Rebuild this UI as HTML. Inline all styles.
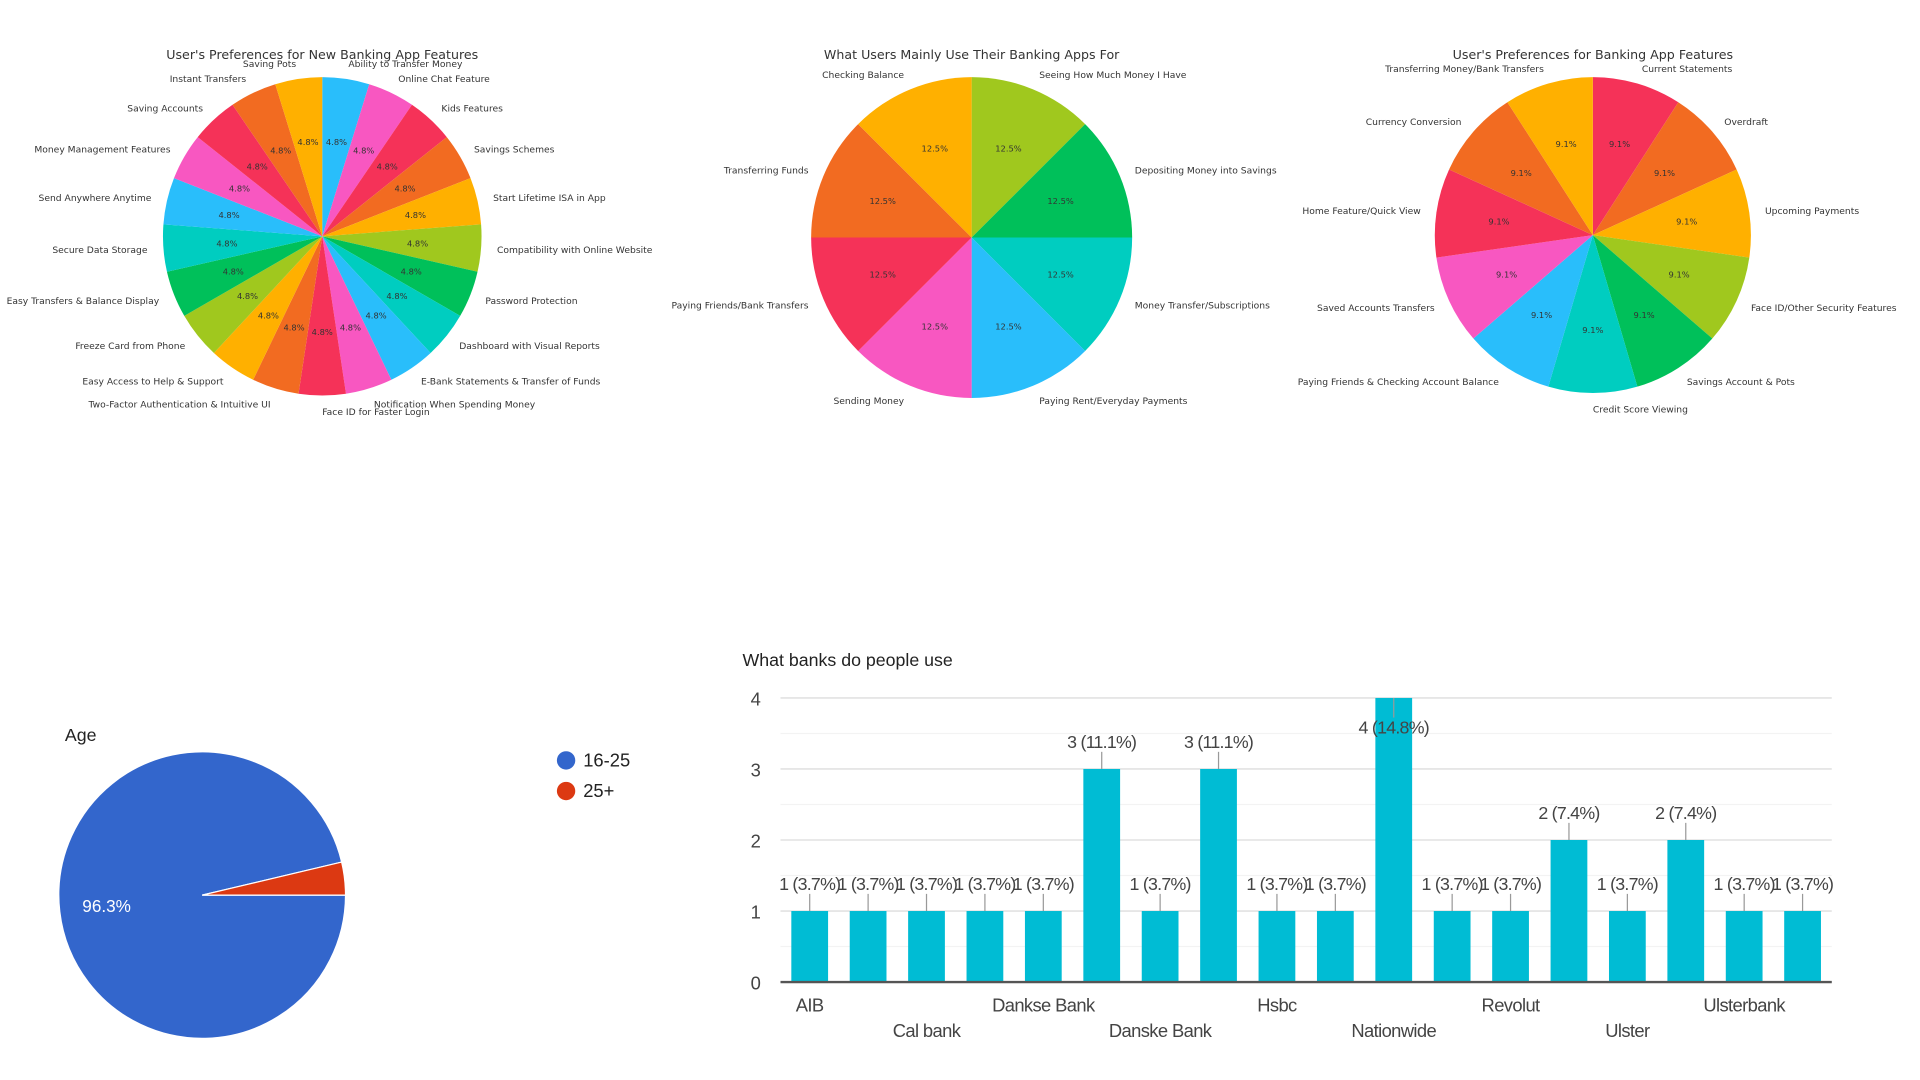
<!DOCTYPE html>
<html><head><meta charset="utf-8"><style>
html,body{margin:0;padding:0;background:#fff;width:1920px;height:1080px;overflow:hidden}
svg{display:block}
.mp{font-family:"DejaVu Sans",sans-serif;fill:#333}
.gc{font-family:"Liberation Sans",sans-serif}
</style></head><body>
<svg id="root" width="1920" height="1080" viewBox="0 0 1567 882" preserveAspectRatio="none" xmlns="http://www.w3.org/2000/svg"></svg>
<script>
// ---------- data ----------
const pie1Labels = ["Ability to Transfer Money","Online Chat Feature","Kids Features","Savings Schemes","Start Lifetime ISA in App","Compatibility with Online Website","Password Protection","Dashboard with Visual Reports","E-Bank Statements & Transfer of Funds","Notification When Spending Money","Face ID for Faster Login","Two-Factor Authentication & Intuitive UI","Easy Access to Help & Support","Freeze Card from Phone","Easy Transfers & Balance Display","Secure Data Storage","Send Anywhere Anytime","Money Management Features","Saving Accounts","Instant Transfers","Saving Pots"];
const pie1Values = [1,1,1,1,1,1,1,1,1,1,1,1,1,1,1,1,1,1,1,1,1];
const pie2Labels = ["Seeing How Much Money I Have","Depositing Money into Savings","Money Transfer/Subscriptions","Paying Rent/Everyday Payments","Sending Money","Paying Friends/Bank Transfers","Transferring Funds","Checking Balance"];
const pie2Values = [1,1,1,1,1,1,1,1];
const pie3Labels = ["Current Statements","Overdraft","Upcoming Payments","Face ID/Other Security Features","Savings Account & Pots","Credit Score Viewing","Paying Friends & Checking Account Balance","Saved Accounts Transfers","Home Feature/Quick View","Currency Conversion","Transferring Money/Bank Transfers"];
const pie3Values = [1,1,1,1,1,1,1,1,1,1,1];
const ageLabels = ["16-25","25+"];
const ageValues = [26,1];
const bankCategories = ["AIB","Bank of Ireland","Cal bank","Credit Union","Dankse Bank","Danske","Danske Bank","Danske bank","Hsbc","Monzo","Nationwide","Natwest","Revolut","Santander","Ulster","Ulster Bank","Ulsterbank","Virgin"];
const bankValues = [1,1,1,1,1,3,1,3,1,1,4,1,1,2,1,2,1,1];
const yTicks = [0,1,2,3,4];

const NS="http://www.w3.org/2000/svg";
const root=document.getElementById('root');
function mk(tag,attrs,parent){const e=document.createElementNS(NS,tag);for(const k in attrs)e.setAttribute(k,attrs[k]);(parent||root).appendChild(e);return e;}
const cycle=["#29BEFB","#F857C1","#F53258","#F26B21","#FFB000","#A0C81E","#00C05A","#00CDC0"];

function drawMplPie(name,title,labels,values,cx,cy,r,colorStart,tx,ty){
  const g=mk('g',{});
  
  
  const t=mk('text',{x:tx,y:ty,'text-anchor':'middle','font-size':10.3,class:'mp'},g);
  t.textContent=title;
  
  
  const total=values.reduce((a,b)=>a+b,0);
  let acc=0;
  values.forEach((v,i)=>{
    const a0=acc/total*2*Math.PI, a1=(acc+v)/total*2*Math.PI; acc+=v;
    const p=a=>[cx+r*Math.sin(a),cy-r*Math.cos(a)];
    const [x0,y0]=p(a0),[x1,y1]=p(a1);
    const large=(a1-a0)>Math.PI?1:0;
    const s=mk('path',{d:`M${cx},${cy}L${x0},${y0}A${r},${r} 0 ${large} 1 ${x1},${y1}Z`,fill:cycle[(colorStart+i)%8]},g);
    
    
    const am=(a0+a1)/2, sx=Math.sin(am), cyy=-Math.cos(am);
    const pct=mk('text',{x:cx+0.6*r*sx,y:cy+0.6*r*cyy+2.5,'text-anchor':'middle','font-size':6.8,class:'mp'},g);
    pct.textContent=(v/total*100).toFixed(1)+'%';
    
    
    const lx=cx+1.1*r*sx, ly=cy+1.1*r*cyy+3;
    const lb=mk('text',{x:lx,y:ly,'text-anchor':sx>=0?'start':'end','font-size':7.5,class:'mp'},g);
    lb.textContent=labels[i];
    
    
  });
}
drawMplPie('new-features-pie',"User's Preferences for New Banking App Features",pie1Labels,pie1Values,263,193,130,0,263,48);
drawMplPie('usage-pie',"What Users Mainly Use Their Banking Apps For",pie2Labels,pie2Values,793,194,131,5,793,48);
drawMplPie('features-pie',"User's Preferences for Banking App Features",pie3Labels,pie3Values,1300,192,129,2,1300,48);

// ---------- Age pie ----------
(function(){
  const g=mk('g',{});
  
  
  const t=mk('text',{x:53,y:605,'font-size':14.5,fill:'#222',class:'gc'},g);t.textContent='Age';
  
  
  const cx=165,cy=731,rx=117,ry=117;const cols=["#3366CC","#DC3912"];
  const total=ageValues.reduce((a,b)=>a+b,0);
  let acc=0;
  ageValues.forEach((v,i)=>{
    const a0=acc/total*2*Math.PI,a1=(acc+v)/total*2*Math.PI;acc+=v;
    const p=a=>[cx+rx*Math.cos(a),cy+ry*Math.sin(a)];
    const [x0,y0]=p(a0),[x1,y1]=p(a1);const large=(a1-a0)>Math.PI?1:0;
    const s=mk('path',{d:`M${cx},${cy}L${x0},${y0}A${rx},${ry} 0 ${large} 1 ${x1},${y1}Z`,fill:cols[i],stroke:'#fff','stroke-width':1},g);
    
    
    if(v/total>0.1){
      const lt=mk('text',{x:87,y:745,'text-anchor':'middle','font-size':14,fill:'#fff',class:'gc'},g);
      lt.textContent=(v/total*100).toFixed(1)+'%';
      
      }
  });
  ageLabels.forEach((l,i)=>{
    const le=mk('g',{},g);
    
    
    mk('circle',{cx:462,cy:621+i*25,r:7.5,fill:cols[i]},le);
    const tt=mk('text',{x:476,y:626+i*25,'font-size':15,fill:'#222',class:'gc'},le);tt.textContent=l;
  });
})();

// ---------- Bar chart ----------
(function(){
  const g=mk('g',{});
  
  
  const t=mk('text',{x:606,y:544,'font-size':14.5,fill:'#222',class:'gc'},g);t.textContent='What banks do people use';
  
  
  const x0=637,x1=1495,yb=802,yt=570,ymax=4;
  const y=v=>yb-(v/ymax)*(yb-yt);
  const step=(x1-x0)/bankCategories.length,bw=30;
  const xc=i=>x0+step*(i+0.5);
  for(let v=0;v<=ymax;v+=0.5){mk('line',{x1:x0,x2:x1,y1:y(v),y2:y(v),stroke:v%1?'#f3f3f3':'#e6e6e6','stroke-width':v%1?1:1.5},g);}
  yTicks.forEach(v=>{const tx=mk('text',{x:621,y:y(v)+6,'text-anchor':'end','font-size':15,fill:'#444',class:'gc'},g);tx.textContent=v;
    
    });
  const total=bankValues.reduce((a,b)=>a+b,0);
  bankValues.forEach((v,i)=>{
    const b=mk('rect',{x:xc(i)-bw/2,y:y(v),width:bw,height:yb-y(v),fill:'#00BCD4'},g);
    
    
    let ly=y(v)-22;let inside=false;if(ly<585){ly=y(v)+24;inside=true;}
    if(!inside)mk('line',{x1:xc(i),x2:xc(i),y1:y(v),y2:ly+8,stroke:'#999','stroke-width':1},g);
    else mk('line',{x1:xc(i),x2:xc(i),y1:y(v),y2:ly-8,stroke:'#999','stroke-width':1},g);
    const lt=mk('text',{x:xc(i),y:ly+5,'text-anchor':'middle','font-size':14.5,fill:'#444',class:'gc','letter-spacing':-0.6},g);
    lt.textContent=v+' ('+(v/total*100).toFixed(1)+'%)';
    
    
  });
  mk('line',{x1:x0,x2:x1,y1:yb,y2:yb,stroke:'#555','stroke-width':2},g);
  bankCategories.forEach((c,i)=>{ if(i%2)return;
    const row=(i/2)%2;
    const ct=mk('text',{x:xc(i),y:row?847:826,'text-anchor':'middle','font-size':15,fill:'#444',class:'gc','letter-spacing':-0.5},g);
    ct.textContent=c;
    
    
  });
})();
</script>
</body></html>
